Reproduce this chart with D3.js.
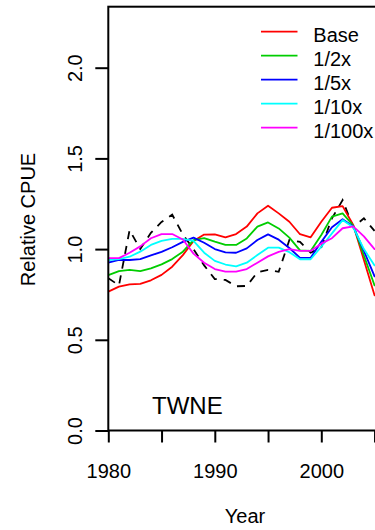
<!DOCTYPE html>
<html>
<head>
<meta charset="utf-8">
<script src="https://cdn.jsdelivr.net/npm/d3@7"></script>
<style>
  html, body { margin: 0; padding: 0; background: #fff; }
  svg { display: block; font-family: "Liberation Sans", Arial, sans-serif; }
</style>
</head>
<body>
<svg id="chart" width="375" height="530"></svg>
<script>
// ---- data ----
const years = [1980,1981,1982,1983,1984,1985,1986,1987,1988,1989,1990,1991,1992,
               1993,1994,1995,1996,1997,1998,1999,2000,2001,2002,2003,2004,2005];
const observed = [0.84,0.80,1.105,1.00,1.09,1.15,1.19,1.08,1.00,0.91,0.835,0.83,0.795,
                  0.797,0.872,0.885,0.875,1.05,1.04,0.98,1.01,1.17,1.27,1.12,1.17,1.10];
const base   = [0.765,0.793,0.806,0.808,0.828,0.858,0.903,0.967,1.045,1.08,1.081,1.065,1.083,
                1.124,1.197,1.239,1.197,1.151,1.082,1.065,1.151,1.228,1.237,1.133,0.94,0.745];
const half   = [0.857,0.879,0.885,0.879,0.894,0.916,0.945,0.986,1.05,1.061,1.041,1.023,1.023,
                1.059,1.124,1.147,1.114,1.063,0.993,0.99,1.078,1.179,1.197,1.13,0.965,0.80];
const fifth  = [0.925,0.94,0.94,0.945,0.965,0.985,1.01,1.04,1.063,1.035,1.00,0.982,0.98,
                1.004,1.05,1.081,1.052,1.006,0.952,0.952,1.04,1.12,1.165,1.125,0.99,0.85];
const tenth  = [0.94,0.945,0.958,0.986,1.023,1.045,1.056,1.056,1.045,0.98,0.935,0.915,0.905,
                0.925,0.967,1.008,1.008,0.983,0.944,0.944,1.013,1.087,1.16,1.12,1.0,0.91];
const hundredth = [0.95,0.95,0.98,1.015,1.06,1.083,1.083,1.053,0.975,0.925,0.89,0.876,0.876,
                   0.89,0.925,0.96,0.985,1.00,0.99,0.99,1.03,1.06,1.115,1.125,1.07,1.00];
const seriesNames = ["Base","1/2x","1/5x","1/10x","1/100x"];
const seriesColors = ["#FF0000","#00CD00","#0000FF","#00FFFF","#FF00FF"];
const seriesValues = [base, half, fifth, tenth, hundredth];
const xTicks = [1980,1985,1990,1995,2000,2005];
const xTickLabels = ["1980","","1990","","2000",""];
const yTicks = [0.0,0.5,1.0,1.5,2.0];
const yTickLabels = ["0.0","0.5","1.0","1.5","2.0"];
const panelLabel = "TWNE";
const xTitle = "Year";
const yTitle = "Relative CPUE";

// ---- layout ----
const svg = d3.select("#chart");
const pLeft = 108.3, pTop = 6.7, pBottom = 430.5, pRight = 386;
const x = d3.scaleLinear().domain([1980, 2005]).range([pLeft, 374.55]);
const y = d3.scaleLinear().domain([0, 2]).range([pBottom, 67.7]);

svg.append("defs").append("clipPath").attr("id","plotclip")
  .append("rect").attr("x", pLeft).attr("y", pTop).attr("width", pRight-pLeft).attr("height", pBottom-pTop);

const plot = svg.append("g").attr("clip-path","url(#plotclip)");

const line = vals => d3.line().x((d,i) => x(years[i])).y(d => y(d))(vals);

plot.append("path").attr("d", line(observed))
  .attr("fill","none").attr("stroke","#000").attr("stroke-width",1.8)
  .attr("stroke-dasharray","8,7");

seriesValues.forEach((vals, i) => {
  plot.append("path").attr("d", line(vals))
    .attr("fill","none").attr("stroke", seriesColors[i]).attr("stroke-width",1.8)
    .attr("stroke-linejoin","round").attr("stroke-linecap","round");
});

// box
svg.append("rect").attr("x", pLeft).attr("y", pTop).attr("width", pRight-pLeft).attr("height", pBottom-pTop)
  .attr("fill","none").attr("stroke","#000").attr("stroke-width",2);

// axes
const fontSize = 20;
const xAxis = d3.axisBottom(x).tickValues(xTicks).tickSize(12).tickPadding(22)
  .tickFormat((d,i) => xTickLabels[i]);
const gx = svg.append("g").attr("transform", `translate(0,${pBottom})`).call(xAxis);
gx.select(".domain").remove();
gx.selectAll(".tick line").attr("stroke","#000").attr("stroke-width",2);
gx.selectAll(".tick text").attr("font-size", fontSize).attr("fill","#000")
  .attr("font-family","Liberation Sans, Arial, sans-serif")
  .attr("dy", null).attr("y", 47.8);

const yAxis = d3.axisLeft(y).tickValues(yTicks).tickSize(13).tickFormat((d,i) => yTickLabels[i]);
const gy = svg.append("g").attr("transform", `translate(${pLeft},0)`).call(yAxis);
gy.select(".domain").remove();
gy.selectAll(".tick line").attr("stroke","#000").attr("stroke-width",2);
gy.selectAll(".tick text").attr("font-size", fontSize).attr("fill","#000")
  .attr("font-family","Liberation Sans, Arial, sans-serif")
  .attr("x", null).attr("dy", null)
  .attr("text-anchor","middle")
  .attr("transform","translate(-26,0) rotate(-90)");

// titles
svg.append("text").attr("x", 245).attr("y", 522.5).attr("text-anchor","middle")
  .attr("font-size", fontSize).text(xTitle);
svg.append("text").attr("transform","translate(35,219.5) rotate(-90)").attr("text-anchor","middle")
  .attr("font-size", fontSize).text(yTitle);
svg.append("text").attr("x", 152).attr("y", 414).attr("font-size", 24).text(panelLabel);

// legend
const leg = svg.append("g");
seriesNames.forEach((name, i) => {
  const ly = 31.7 + i*24;
  leg.append("line").attr("x1", 261).attr("x2", 297.5).attr("y1", ly).attr("y2", ly)
    .attr("stroke", seriesColors[i]).attr("stroke-width", 1.8);
  leg.append("text").attr("x", 313.3).attr("y", ly + 10).attr("font-size", fontSize).text(name);
});
</script>
</body>
</html>
